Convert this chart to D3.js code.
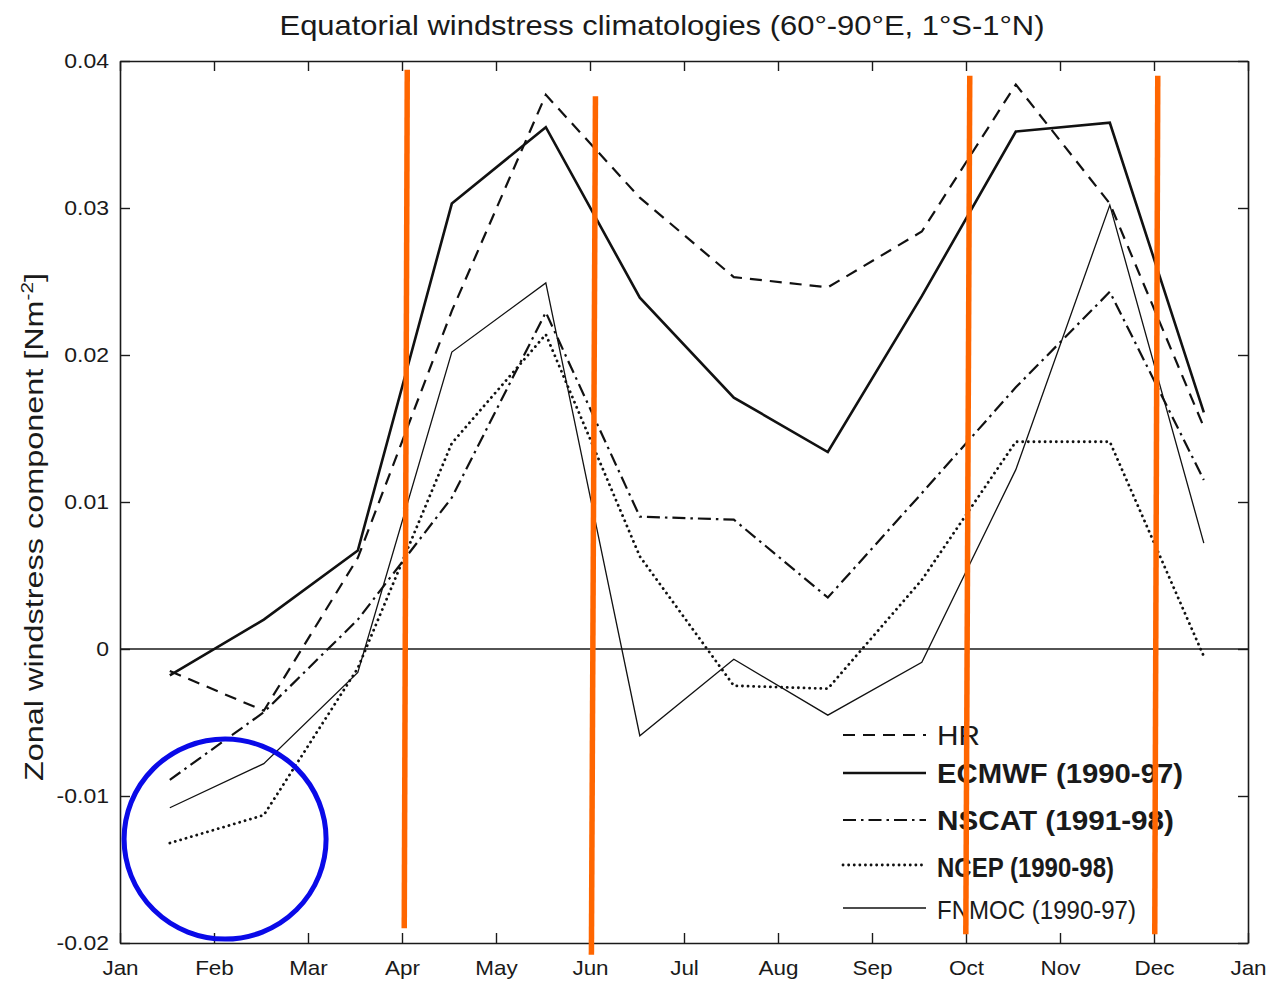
<!DOCTYPE html>
<html><head><meta charset="utf-8">
<script src="https://cdn.jsdelivr.net/npm/d3@7"></script>
<style>
body{margin:0;background:#fff}
text{font-family:"Liberation Sans", Arial, Helvetica, sans-serif; fill:#1a1a1a}
</style>
</head><body>
<svg id="c" width="1269" height="981"></svg>
<script>
// ---------------- data ----------------
const monthLabels = ["Jan","Feb","Mar","Apr","May","Jun","Jul","Aug","Sep","Oct","Nov","Dec","Jan"];
const categories = ["Jan","Feb","Mar","Apr","May","Jun","Jul","Aug","Sep","Oct","Nov","Dec"];
const yTickValues = [-0.02,-0.01,0,0.01,0.02,0.03,0.04];
const yTickLabels = ["-0.02","-0.01","0","0.01","0.02","0.03","0.04"];

const HR     = [-0.0015,-0.0042, 0.0062, 0.0230, 0.0377, 0.0307, 0.0253, 0.0246, 0.0284, 0.0384, 0.0303, 0.0151];
const ECMWF  = [-0.0018, 0.0020, 0.0067, 0.0303, 0.0355, 0.0239, 0.0171, 0.0134, 0.0240, 0.0352, 0.0358, 0.0161];
const NSCAT  = [-0.0089,-0.0043, 0.0020, 0.0103, 0.0229, 0.0090, 0.0088, 0.0035, 0.0106, 0.0178, 0.0243, 0.0115];
const NCEP   = [-0.0132,-0.0113,-0.0013, 0.0140, 0.0214, 0.0063,-0.0025,-0.0027, 0.0047, 0.0141, 0.0141,-0.0005];
const FNMOC  = [-0.0108,-0.0078,-0.0016, 0.0202, 0.0249,-0.0059,-0.0007,-0.0045,-0.0009, 0.0122, 0.0302, 0.0072];

const seriesNames = ["HR","ECMWF (1990-97)","NSCAT (1991-98)","NCEP (1990-98)","FNMOC (1990-97)"];

// annotation overlays (month position at top/bottom, value at top/bottom)
const markerTopMonth    = [3.056, 5.058, 9.040, 11.040];
const markerBottomMonth = [3.024, 5.015, 8.998, 11.008];
const markerTopValue    = [0.0394, 0.0376, 0.0390, 0.0390];
const markerBottomValue = [-0.0190,-0.0208,-0.0194,-0.0194];
const circleMonth = 1.118, circleValue = -0.01293;

// ---------------- styles / layout ----------------
const styles = [
  {w:2.2, dash:"12,8", cap:"butt"},
  {w:2.6, dash:null, cap:"butt"},
  {w:2.2, dash:"13,5,2.5,5", cap:"butt"},
  {w:2.8, dash:"0.1,5.5", cap:"round"},
  {w:1.3, dash:null, cap:"butt"}
];
const legendRows = [
  {y:735, ty:745, bold:false, size:28, len:43},
  {y:773, ty:783, bold:true,  size:28, len:246},
  {y:820, ty:830, bold:true,  size:28, len:237},
  {y:865, ty:877, bold:true,  size:27, len:177},
  {y:908, ty:919, bold:false, size:26, len:199}
];

const L = 120, R = 1248, T = 61, B = 943;
const svg = d3.select("#c");
const x = d3.scaleLinear().domain([0,12]).range([L,R]);
const y = d3.scaleLinear().domain([-0.02,0.04]).range([B,T]);
const px = i => x(i + 0.53);

const stretch = (sel, f) => sel.each(function(){
  const n = this.getComputedTextLength();
  d3.select(this).attr("textLength", n*f).attr("lengthAdjust","spacingAndGlyphs");
});

// axes
const ax = (g) => { g.selectAll("path.domain").attr("stroke","#1a1a1a").attr("stroke-width",1.6);
                    g.selectAll(".tick line").attr("stroke","#1a1a1a").attr("stroke-width",1.4); };
svg.append("g").attr("transform",`translate(0,${B})`)
  .call(d3.axisBottom(x).tickValues(d3.range(13)).tickFormat(i=>monthLabels[i]).tickSize(-10).tickSizeOuter(0).tickPadding(17))
  .call(ax)
  .call(g=>g.selectAll("text").attr("font-size",21).style("font-family","'Liberation Sans', Arial, sans-serif").attr("fill","#1a1a1a").call(s=>stretch(s,1.07)));
svg.append("g").attr("transform",`translate(0,${T})`)
  .call(d3.axisTop(x).tickValues(d3.range(13)).tickFormat("").tickSize(-10).tickSizeOuter(0))
  .call(ax);
svg.append("g").attr("transform",`translate(${L},0)`)
  .call(d3.axisLeft(y).tickValues(yTickValues).tickFormat((d,i)=>yTickLabels[i]).tickSize(-10).tickSizeOuter(0).tickPadding(11))
  .call(ax)
  .call(g=>g.selectAll("text").attr("font-size",20).style("font-family","'Liberation Sans', Arial, sans-serif").attr("fill","#1a1a1a").call(s=>stretch(s,1.15)));
svg.append("g").attr("transform",`translate(${R},0)`)
  .call(d3.axisRight(y).tickValues(yTickValues).tickFormat("").tickSize(-10).tickSizeOuter(0))
  .call(ax);

// zero line
svg.append("line").attr("x1",L).attr("x2",R).attr("y1",y(0)).attr("y2",y(0))
  .attr("stroke","#1a1a1a").attr("stroke-width",1.5);

// series lines
const allSeries = [HR, ECMWF, NSCAT, NCEP, FNMOC];
const line = d3.line().x((d,i)=>px(i)).y(d=>y(d));
allSeries.forEach((s,k)=>{
  const st = styles[k];
  svg.append("path").datum(s).attr("d",line).attr("fill","none")
    .attr("stroke","#111").attr("stroke-width",st.w)
    .attr("stroke-dasharray",st.dash).attr("stroke-linecap",st.cap).attr("stroke-linejoin","miter");
});

// legend
const lg = svg.append("g");
legendRows.forEach((r,k)=>{
  const st = styles[k];
  lg.append("line").attr("x1",843).attr("x2",926).attr("y1",r.y).attr("y2",r.y)
    .attr("stroke","#111").attr("stroke-width",st.w).attr("stroke-dasharray",st.dash).attr("stroke-linecap",st.cap);
  lg.append("text").attr("x",937).attr("y",r.ty).attr("font-size",r.size)
    .attr("font-weight",r.bold?"bold":"normal")
    .attr("textLength",r.len).attr("lengthAdjust","spacingAndGlyphs")
    .text(seriesNames[k]);
});

// title
svg.append("text").attr("x",662).attr("y",35).attr("text-anchor","middle").attr("font-size",28)
  .attr("textLength",765).attr("lengthAdjust","spacingAndGlyphs")
  .text("Equatorial windstress climatologies (60°-90°E, 1°S-1°N)");

// y label
const yl = svg.append("text").attr("transform","translate(43,527) rotate(-90)")
  .attr("text-anchor","middle").attr("font-size",25)
  .attr("textLength",508).attr("lengthAdjust","spacingAndGlyphs");
yl.append("tspan").text("Zonal windstress component [Nm");
yl.append("tspan").attr("font-size",16).attr("dy",-10).text("-2");
yl.append("tspan").attr("dy",10).text("]");

// annotations
markerTopMonth.forEach((m,i)=>{
  svg.append("line").attr("x1",x(m)).attr("x2",x(markerBottomMonth[i]))
    .attr("y1",y(markerTopValue[i])).attr("y2",y(markerBottomValue[i]))
    .attr("stroke","#ff6600").attr("stroke-width",5.5);
});
svg.append("ellipse").attr("cx",x(circleMonth)).attr("cy",y(circleValue)).attr("rx",101).attr("ry",100)
  .attr("fill","none").attr("stroke","#0a0ae8").attr("stroke-width",5);
</script>
</body></html>
